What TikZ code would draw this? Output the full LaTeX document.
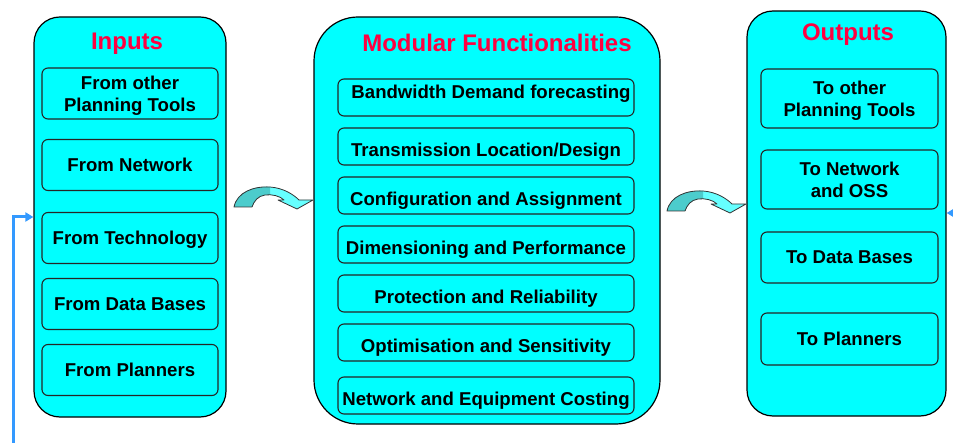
\documentclass[tikz,border=0pt]{standalone}
\usepackage{fontspec}
\setmainfont{Liberation Sans}
\usetikzlibrary{arrows.meta}
\definecolor{panelcyan}{HTML}{00FFFF}
\definecolor{titlered}{HTML}{FF0040}
\definecolor{linkblue}{HTML}{3399FF}
\definecolor{bendlight}{HTML}{66FFFF}
\definecolor{benddark}{HTML}{4CCCCC}
\tikzset{
	panel/.style={draw=black, line width=1.2pt, fill=panelcyan, inner sep=0pt},
	inbox/.style={draw=black!85, line width=1.1pt, rounded corners=6pt, minimum width=176pt, minimum height=51pt, align=center, inner sep=0pt, text depth=0pt, font=\fontsize{18.6}{22}\selectfont\bfseries},
	midbox/.style={inbox, minimum width=296pt, minimum height=37pt, text height=19.5pt},
	outbox/.style={inbox, minimum width=177pt, minimum height=59pt},
	boxtext/.style={font=\fontsize{18.6}{22}\selectfont\bfseries, inner sep=0pt},
	paneltitle/.style={text=titlered, font=\fontsize{24}{28}\selectfont\bfseries, inner sep=0pt},
	feed/.style={draw=linkblue, line width=3pt, -{Triangle[length=8pt,width=9pt]}}
}
\def\bendpath{(0,0) .. controls (3,-15) and (20,-21) .. (36,-20) .. controls (50,-19) and (60,-12) .. (65,-7) -- (79,-7) -- (63,2) -- (44,-7) -- (50,-7) .. controls (46,-11) and (38,-13) .. (31,-12) .. controls (24,-11) and (20,-6) .. (18,0) -- cycle}
\newcommand{\bendarrow}[2]{%
	\begin{scope}[shift={(#1,#2)}]
		\fill[bendlight] \bendpath;
		\begin{scope}
			\clip (-3,3) rectangle (36,-25);
			\fill[benddark] \bendpath;
		\end{scope}
		\draw[black!80, line width=0.8pt, line join=round] \bendpath;
	\end{scope}}

\begin{document}
\begin{tikzpicture}[x=1pt, y=-1pt]
	\useasboundingbox (0,0) rectangle (953,443);

	\node[panel, minimum width=192pt, minimum height=400pt, rounded corners=26pt] (inp) at (130,217) {};
	\node[panel, minimum width=346pt, minimum height=407pt, rounded corners=44pt] (func) at (487,220.5) {};
	\node[panel, minimum width=199pt, minimum height=405pt, rounded corners=26pt] (outp) at (846.5,213.5) {};

	\node[paneltitle] (inptitle) at (127,44) {Inputs};
	\node[paneltitle] (functitle) at (497,43) {Modular Functionalities};
	\node[paneltitle] (outptitle) at (848,35) {Outputs};

	\node[inbox] (fromtools) at (130,93.5) {From other\\Planning Tools};
	\node[inbox] (fromnet) at (130,165) {From Network};
	\node[inbox] (fromtech) at (130,238) {From Technology};
	\node[inbox] (fromdb) at (130,304) {From Data Bases};
	\node[inbox] (fromplan) at (130,370) {From Planners};

	\node[midbox] (bandwidth) at (486,97.5) {};
	\node[boxtext] (bandwidthtext) at (491,94) {Bandwidth Demand forecasting};
	\node[midbox] (transmission) at (486,146.5) {Transmission Location/Design};
	\node[midbox] (config) at (486,195.5) {Configuration and Assignment};
	\node[midbox] (dimension) at (486,244.5) {Dimensioning and Performance};
	\node[midbox] (protection) at (486,293.5) {Protection and Reliability};
	\node[midbox] (optimise) at (486,342.5) {Optimisation and Sensitivity};
	\node[midbox] (costing) at (486,395.5) {Network and Equipment Costing};

	\node[outbox] (totools) at (849.5,98.5) {To other\\Planning Tools};
	\node[outbox] (tonet) at (849.5,179.5) {To Network\\and OSS};
	\node[outbox, minimum height=51pt] (todb) at (849.5,257.5) {To Data Bases};
	\node[outbox, minimum height=52pt] (toplan) at (849.5,339) {To Planners};

	\bendarrow{234}{207}
	\bendarrow{667}{211}

	\coordinate (feedin) at (13,450);
	\coordinate (feedout) at (965,213);
	\draw[feed] (feedin) |- (inp.west);
	\draw[feed] (feedout) -- (outp.east |- feedout);
\end{tikzpicture}
\end{document}
